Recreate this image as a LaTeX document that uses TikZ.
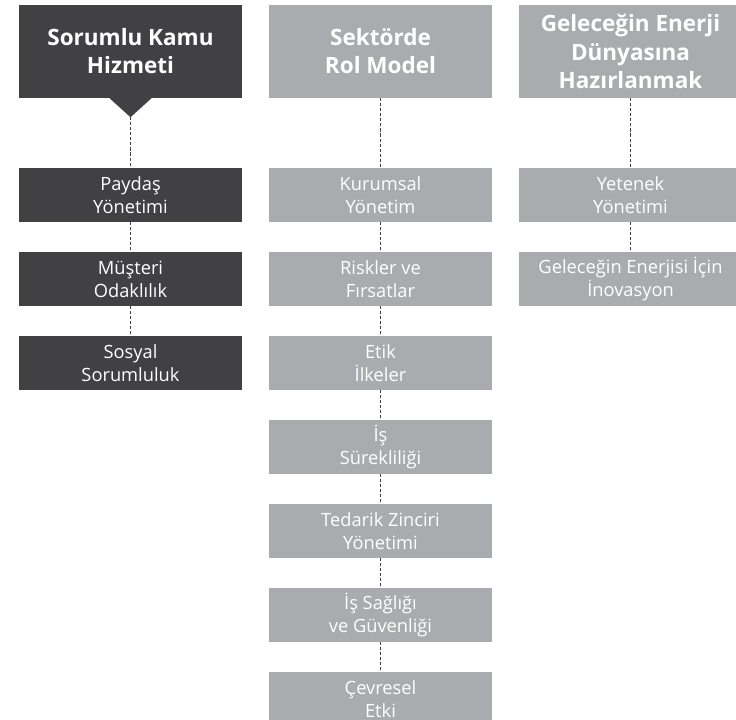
\documentclass[tikz,border=0pt]{standalone}
\usepackage{fontspec}
\setmainfont{Open Sans}
\usepackage{xcolor}
\usepackage{tikz}
\usetikzlibrary{positioning}
\definecolor{kamudark}{HTML}{414042}
\definecolor{rolgray}{HTML}{A9ABAE}

\begin{document}
\begin{tikzpicture}[
    head/.style={minimum width=6.69cm, minimum height=2.79cm, inner sep=0pt,
                 text=white, align=center, font=\fontsize{19.2}{24}\selectfont\bfseries},
    item/.style={minimum width=6.69cm, minimum height=1.62cm, inner sep=0pt,
                 text=white, align=center, font=\fontsize{15.6}{19.5}\selectfont},
    link/.style={kamudark, line width=0.8pt, dash pattern=on 2.6pt off 1.7pt},
    node distance=0.885cm,
]
\useasboundingbox (0,0) rectangle (22.08,-21.6);
% column headers
\node[head, fill=kamudark] (kamu) at (3.915,-1.545) {Sorumlu Kamu\\Hizmeti};
\node[head, fill=rolgray] (rol) at (11.415,-1.545) {Sektörde\\Rol Model};
\node[head, fill=rolgray] (enerji) at (18.915,-1.545) {Geleceğin Enerji\\Dünyasına\\Hazırlanmak};
\fill[kamudark] ([xshift=-0.63cm]kamu.south) -- ([xshift=0.63cm]kamu.south)
  -- ([yshift=-0.57cm]kamu.south) coordinate (kamutip) -- cycle;

% Sorumlu Kamu Hizmeti
\node[item, fill=kamudark] (paydas) at (3.915,-5.85) {Paydaş\\Yönetimi};
\node[item, fill=kamudark, below=of paydas] (musteri) {Müşteri\\Odaklılık};
\node[item, fill=kamudark, below=of musteri] (sosyal) {Sosyal\\Sorumluluk};
\draw[link] (kamutip) -- (paydas.north);
\draw[link] (paydas) -- (musteri);
\draw[link] (musteri) -- (sosyal);

% Sektörde Rol Model
\node[item, fill=rolgray] (kurumsal) at (11.415,-5.85) {Kurumsal\\Yönetim};
\node[item, fill=rolgray, below=of kurumsal] (riskler) {Riskler ve\\Fırsatlar};
\node[item, fill=rolgray, below=of riskler] (etik) {Etik\\İlkeler};
\node[item, fill=rolgray, below=of etik] (sureklilik) {İş\\Sürekliliği};
\node[item, fill=rolgray, below=of sureklilik] (tedarik) {Tedarik Zinciri\\Yönetimi};
\node[item, fill=rolgray, below=of tedarik] (saglik) {İş Sağlığı\\ve Güvenliği};
\node[item, fill=rolgray, below=of saglik] (cevre) {Çevresel\\Etki};
\draw[link] (rol) -- (kurumsal);
\draw[link] (kurumsal) -- (riskler);
\draw[link] (riskler) -- (etik);
\draw[link] (etik) -- (sureklilik);
\draw[link] (sureklilik) -- (tedarik);
\draw[link] (tedarik) -- (saglik);
\draw[link] (saglik) -- (cevre);

% Geleceğin Enerji Dünyasına Hazırlanmak
\node[item, fill=rolgray] (yetenek) at (18.915,-5.85) {Yetenek\\Yönetimi};
\node[item, fill=rolgray, below=of yetenek] (inovasyon) {Geleceğin Enerjisi İçin\\İnovasyon};
\draw[link] (enerji) -- (yetenek);
\draw[link] (yetenek) -- (inovasyon);
\end{tikzpicture}
\end{document}
